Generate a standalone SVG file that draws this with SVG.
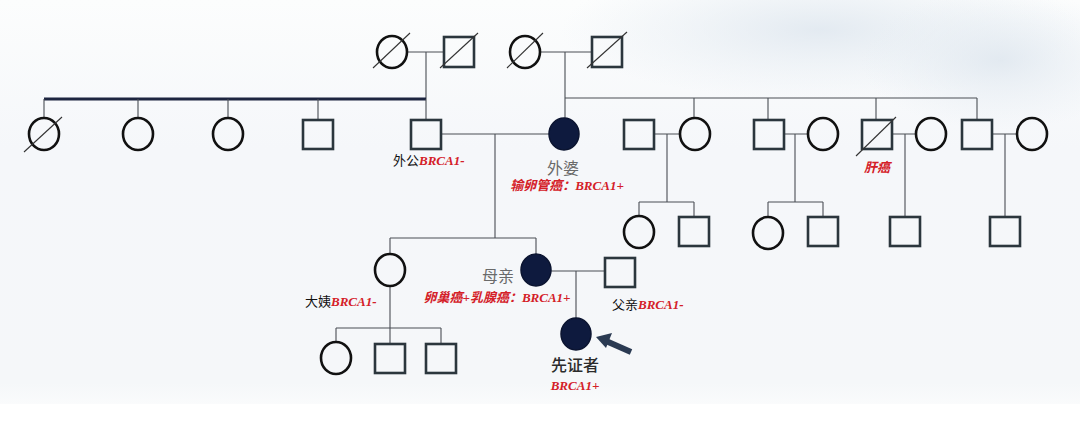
<svg xmlns="http://www.w3.org/2000/svg" width="1080" height="426" viewBox="0 0 1080 426">
<defs>
<linearGradient id="bg" x1="0" y1="0" x2="0" y2="1">
<stop offset="0" stop-color="#fcfdfd"/>
<stop offset="0.35" stop-color="#f5f7fa"/>
<stop offset="0.9" stop-color="#f5f7f9"/>
<stop offset="1" stop-color="#ffffff"/>
</linearGradient>
<radialGradient id="cloud" cx="0.5" cy="0.5" r="0.5">
<stop offset="0" stop-color="#dfe7ef" stop-opacity="0.85"/>
<stop offset="1" stop-color="#e6edf3" stop-opacity="0"/>
</radialGradient>
<style>
.f{fill:none;stroke:#111;stroke-width:2.6}
.m{fill:none;stroke:#2b363d;stroke-width:2.6}
.a{fill:#0e1a3e;stroke:#0b1430;stroke-width:1.5}
.l{fill:none;stroke:#4a4f55;stroke-width:1.1}
.s{stroke:#333;stroke-width:1.1}
.cn{font-family:"Noto Sans CJK SC",sans-serif;font-size:13px;fill:#111}
.g{font-family:"Noto Sans CJK SC",sans-serif;font-size:16px;fill:#6a6a6a}
.r{font-family:"Liberation Serif","Noto Sans CJK SC",serif;font-weight:bold;font-style:italic;font-size:13px;fill:#d42028}
</style>
</defs>
<rect width="1080" height="426" fill="url(#bg)"/>
<ellipse cx="820" cy="30" rx="260" ry="70" fill="url(#cloud)"/>
<ellipse cx="1000" cy="60" rx="140" ry="70" fill="url(#cloud)"/>
<rect x="0" y="404" width="1080" height="22" fill="#ffffff"/>

<g id="connectors">
<path class="l" d="M407 52H444M426 52V99M540 52H592M565 52V98"/>
<path d="M44 99H426" stroke="#1d2540" stroke-width="3"/>
<path class="l" d="M44 99V118M138 99V118M228 99V118M318 99V120M426 99V120"/>
<path class="l" d="M565 98H977M565 98V118M694 98V118M768 98V120M876 98V120M977 98V120"/>
<path class="l" d="M441 134H549M495 134V238M390 238H536M390 238V255M536 238V255"/>
<path class="l" d="M654 134H680M667 134V202M639 202H694M639 202V216M694 202V217"/>
<path class="l" d="M784 134H808M795 134V202M768 202H823M768 202V217M823 202V217"/>
<path class="l" d="M892 134H916M905 134V217"/>
<path class="l" d="M992 134H1017M1005 134V216"/>
<path class="l" d="M551 271H605M576 271V319"/>
<path class="l" d="M390 286V328M336 328H441M336 328V343M390 328V343M441 328V343"/>
<path d="M631 352L606 341" stroke="#2a3a52" stroke-width="6" stroke-linecap="butt"/>
<path d="M596 337L612 333L606 348Z" fill="#2a3a52"/>
</g>

<g id="gen1">
<g id="gm1"><ellipse class="f" cx="392" cy="52" rx="15" ry="16"/><line class="s" x1="373" y1="68" x2="410" y2="33"/></g>
<g id="gf1"><rect class="m" x="444" y="37" width="30" height="30"/><line class="s" x1="440" y1="68" x2="478" y2="33"/></g>
<g id="gm2"><ellipse class="f" cx="525" cy="52" rx="15" ry="16"/><line class="s" x1="507" y1="68" x2="543" y2="33"/></g>
<g id="gf2"><rect class="m" x="592" y="37" width="30" height="30"/><line class="s" x1="587" y1="68" x2="627" y2="32"/></g>
</g>

<g id="gen2">
<g id="p1"><ellipse class="f" cx="44" cy="134" rx="15" ry="16"/><line class="s" x1="24" y1="152" x2="62" y2="117"/></g>
<g id="p2"><ellipse class="f" cx="138" cy="134" rx="15" ry="16"/></g>
<g id="p3"><ellipse class="f" cx="228" cy="134" rx="15" ry="16"/></g>
<g id="p4"><rect class="m" x="303" y="120" width="30" height="29"/></g>
<g id="waigong"><rect class="m" x="411" y="120" width="30" height="29"/>
<text x="393" y="165"><tspan class="cn">外公</tspan><tspan class="r">BRCA1-</tspan></text></g>
<g id="waipo"><ellipse class="a" cx="564" cy="134" rx="15" ry="16"/>
<text class="g" x="563" y="174" text-anchor="middle">外婆</text>
<text class="r" x="567" y="190" text-anchor="middle">输卵管癌：BRCA1+</text></g>
<g id="u1"><rect class="m" x="624" y="120" width="30" height="29"/></g>
<g id="a1"><ellipse class="f" cx="695" cy="134" rx="15" ry="16"/></g>
<g id="u2"><rect class="m" x="754" y="120" width="30" height="29"/></g>
<g id="a2"><ellipse class="f" cx="823" cy="134" rx="15" ry="16"/></g>
<g id="u3"><rect class="m" x="862" y="120" width="30" height="29"/><line class="s" x1="856" y1="156" x2="896" y2="117"/>
<text class="r" x="877" y="172" text-anchor="middle">肝癌</text></g>
<g id="a3"><ellipse class="f" cx="931" cy="134" rx="15" ry="16"/></g>
<g id="u4"><rect class="m" x="962" y="120" width="30" height="29"/></g>
<g id="a4"><ellipse class="f" cx="1032" cy="134" rx="15" ry="16"/></g>
</g>

<g id="gen3">
<g id="c1"><ellipse class="f" cx="639" cy="232" rx="15" ry="16"/></g>
<g id="c2"><rect class="m" x="679" y="217" width="30" height="29"/></g>
<g id="c3"><ellipse class="f" cx="768" cy="233" rx="15" ry="16"/></g>
<g id="c4"><rect class="m" x="808" y="217" width="30" height="29"/></g>
<g id="c5"><rect class="m" x="890" y="217" width="30" height="29"/></g>
<g id="c6"><rect class="m" x="990" y="217" width="30" height="29"/></g>
<g id="dayi"><ellipse class="f" cx="390" cy="270" rx="15" ry="16"/>
<text x="305" y="306"><tspan class="cn">大姨</tspan><tspan class="r">BRCA1-</tspan></text></g>
<g id="muqin"><ellipse class="a" cx="536" cy="270" rx="15" ry="16"/>
<text class="g" x="498" y="282" text-anchor="middle">母亲</text>
<text class="r" x="497" y="302" text-anchor="middle">卵巢癌+乳腺癌：BRCA1+</text></g>
<g id="fuqin"><rect class="m" x="605" y="258" width="30" height="29"/>
<text x="612" y="309"><tspan class="cn">父亲</tspan><tspan class="r">BRCA1-</tspan></text></g>
</g>

<g id="gen4">
<g id="k1"><ellipse class="f" cx="336" cy="358" rx="15" ry="16"/></g>
<g id="k2"><rect class="m" x="375" y="344" width="30" height="29"/></g>
<g id="k3"><rect class="m" x="426" y="344" width="30" height="29"/></g>
<g id="proband"><ellipse class="a" cx="576" cy="334" rx="15" ry="16"/>
<text x="575" y="371" text-anchor="middle" font-family="Noto Sans CJK SC,sans-serif" font-size="16" font-weight="500" fill="#2b2b2b">先证者</text>
<text class="r" x="575" y="390" text-anchor="middle">BRCA1+</text></g>
</g>
</svg>
